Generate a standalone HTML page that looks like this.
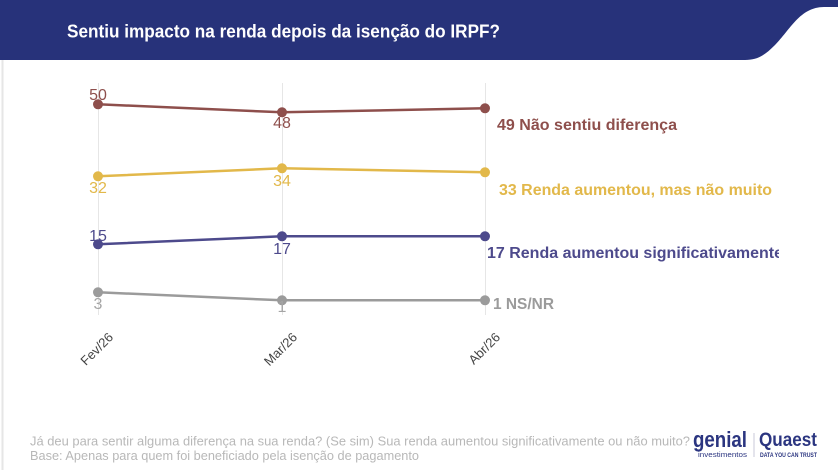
<!DOCTYPE html>
<html><head><meta charset="utf-8"><style>
html,body{margin:0;padding:0;background:#fff;}
svg{display:block;}
text{font-family:"Liberation Sans",Arial,sans-serif;}
</style></head><body>
<svg width="838" height="470" viewBox="0 0 838 470" xmlns="http://www.w3.org/2000/svg">
<defs><clipPath id="cl"><rect x="0" y="60" width="779" height="300"/></clipPath></defs>
<rect width="838" height="470" fill="#fff"/>
<!-- header -->
<path d="M0 0 H838 V7 H824 C800 7 790 30 775 45 C765 55 758 60 745 60 H0 Z" fill="#27327a"/>
<text x="67" y="37.5" fill="#fff" font-size="18" font-weight="bold" textLength="433" lengthAdjust="spacingAndGlyphs">Sentiu impacto na renda depois da isenção do IRPF?</text>
<!-- left border -->
<rect x="1.5" y="60" width="2" height="410" fill="#e6e6e6"/>
<!-- gridlines -->
<g stroke="#e6e6e6" stroke-width="1">
<line x1="98.5" y1="83" x2="98.5" y2="315"/>
<line x1="282.5" y1="83" x2="282.5" y2="315"/>
<line x1="485.5" y1="83" x2="485.5" y2="315"/>
</g>
<!-- series -->
<g fill="none" stroke-width="2.5" stroke-linejoin="round">
<polyline points="98,104.3 282,112.3 485,108.3" stroke="#8e4f4c"/>
<polyline points="98,176.3 282,168.3 485,172.3" stroke="#e2b84a"/>
<polyline points="98,244.3 282,236.3 485,236.3" stroke="#4d4a8c"/>
<polyline points="98,292.3 282,300.3 485,300.3" stroke="#9b9b9b"/>
</g>
<g fill="#8e4f4c"><circle cx="98" cy="104.3" r="5"/><circle cx="282" cy="112.3" r="5"/><circle cx="485" cy="108.3" r="5"/></g>
<g fill="#e2b84a"><circle cx="98" cy="176.3" r="5"/><circle cx="282" cy="168.3" r="5"/><circle cx="485" cy="172.3" r="5"/></g>
<g fill="#4d4a8c"><circle cx="98" cy="244.3" r="5"/><circle cx="282" cy="236.3" r="5"/><circle cx="485" cy="236.3" r="5"/></g>
<g fill="#9b9b9b"><circle cx="98" cy="292.3" r="5"/><circle cx="282" cy="300.3" r="5"/><circle cx="485" cy="300.3" r="5"/></g>
<!-- value labels -->
<g font-size="16" text-anchor="middle">
<text x="98" y="100" fill="#8e4f4c">50</text>
<text x="282" y="128" fill="#8e4f4c">48</text>
<text x="98" y="193" fill="#e2b84a">32</text>
<text x="282" y="186" fill="#e2b84a">34</text>
<text x="98" y="241" fill="#4d4a8c">15</text>
<text x="282" y="254" fill="#4d4a8c">17</text>
<text x="98" y="309" fill="#a5a5a5">3</text>
<text x="282" y="312" fill="#a5a5a5">1</text>
</g>
<!-- end labels -->
<g font-size="16" font-weight="bold" clip-path="url(#cl)">
<text x="497" y="130" fill="#8e4f4c" textLength="180" lengthAdjust="spacingAndGlyphs">49 Não sentiu diferença</text>
<text x="499" y="195" fill="#e2b84a" textLength="273" lengthAdjust="spacingAndGlyphs">33 Renda aumentou, mas não muito</text>
<text x="487" y="258" fill="#4d4a8c" textLength="296" lengthAdjust="spacingAndGlyphs">17 Renda aumentou significativamente</text>
<text x="493" y="309" fill="#9b9b9b" textLength="61" lengthAdjust="spacingAndGlyphs">1 NS/NR</text>
</g>
<!-- x axis labels -->
<g font-size="13" fill="#444" text-anchor="end">
<text transform="translate(114,338) rotate(-45)">Fev/26</text>
<text transform="translate(298,338) rotate(-45)">Mar/26</text>
<text transform="translate(501,338) rotate(-45)">Abr/26</text>
</g>
<!-- footer -->
<g font-size="12.5" fill="#b8b8b8">
<text x="30" y="445.5" textLength="660" lengthAdjust="spacingAndGlyphs">Já deu para sentir alguma diferença na sua renda? (Se sim) Sua renda aumentou significativamente ou não muito?</text>
<text x="30" y="460" textLength="389" lengthAdjust="spacingAndGlyphs">Base: Apenas para quem foi beneficiado pela isenção de pagamento</text>
</g>
<!-- logos -->
<text x="693" y="447" font-size="22" font-weight="bold" fill="#2b3580" textLength="54" lengthAdjust="spacingAndGlyphs">genial</text>
<text x="698" y="457" font-size="7" fill="#2b3580" textLength="49" lengthAdjust="spacingAndGlyphs">investimentos</text>
<line x1="754" y1="433" x2="754" y2="457" stroke="#c8c8d8" stroke-width="1"/>
<text x="759" y="446" font-size="19" font-weight="bold" fill="#2b3580" textLength="58" lengthAdjust="spacingAndGlyphs">Quaest</text>
<text x="760" y="457" font-size="6" font-weight="bold" fill="#2b3580" textLength="57" lengthAdjust="spacingAndGlyphs">DATA YOU CAN TRUST</text>
</svg>
</body></html>
